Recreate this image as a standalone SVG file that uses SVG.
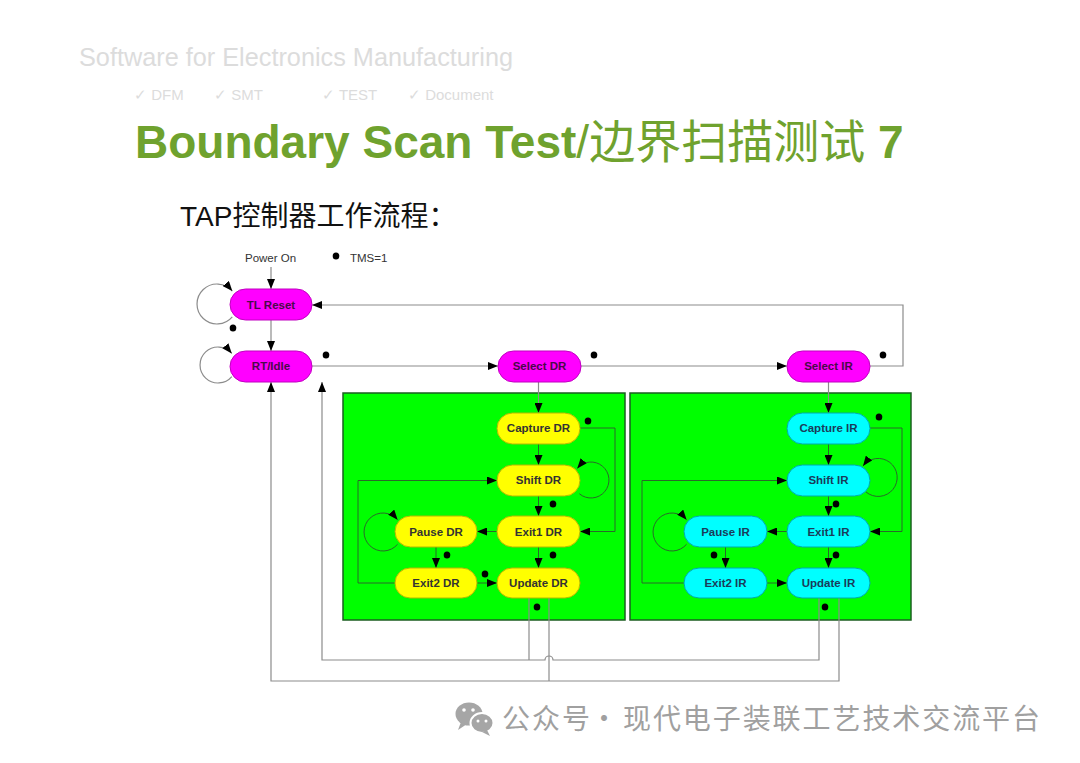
<svg xmlns="http://www.w3.org/2000/svg" width="1080" height="763" viewBox="0 0 1080 763">
<style>
.hdr{font-family:"Liberation Sans",Arial,sans-serif;fill:#dcdcdc}
.ttl{font-family:"Liberation Sans","Noto Sans CJK SC",sans-serif;fill:#6fa22e}
.sub{font-family:"Liberation Sans","Noto Sans CJK SC",sans-serif;fill:#111}
.lbl{font-family:"Liberation Sans",Arial,sans-serif;font-size:11.5px;fill:#333}
.nt{font-family:"Liberation Sans",Arial,sans-serif;font-size:11.5px;font-weight:bold;text-anchor:middle}
.mg rect{fill:#ff00ff;stroke:#c000c0;stroke-width:1}
.mg text{fill:#4a0a4a}
.yl rect{fill:#ffff00;stroke:#b8b800;stroke-width:1}
.yl text{fill:#333}
.cy rect{fill:#00ffff;stroke:#00aaaa;stroke-width:1}
.cy text{fill:#1a3c5a}
.box{fill:#00ff00;stroke:#1b5e20;stroke-width:1.5}
.ln{fill:none;stroke:#8c8c8c;stroke-width:1.2}
.lg{fill:none;stroke:#2a6a2a;stroke-width:1}
.dot{fill:#000}
.wm{font-family:"Noto Sans CJK SC",sans-serif;fill:#a0a0a0}
</style>
<defs>
<marker id="ah" viewBox="0 0 10 8" refX="10" refY="4" markerWidth="10" markerHeight="8" markerUnits="userSpaceOnUse" orient="auto">
<path d="M0,0 L10,4 L0,8 z" fill="#000"/>
</marker>
</defs>
<rect width="1080" height="763" fill="#fff"/>

<g id="header">
<text class="hdr" x="79" y="66" font-size="26" textLength="434" lengthAdjust="spacingAndGlyphs">Software for Electronics Manufacturing</text>
<text class="hdr" x="134" y="100" font-size="15">✓ DFM</text>
<text class="hdr" x="214" y="100" font-size="15">✓ SMT</text>
<text class="hdr" x="322" y="100" font-size="15">✓ TEST</text>
<text class="hdr" x="408" y="100" font-size="15">✓ Document</text>
</g>

<g id="title">
<text class="ttl" x="135" y="158" font-size="46"><tspan font-weight="bold">Boundary Scan Test</tspan><tspan>/</tspan><tspan>边界扫描测试</tspan><tspan font-weight="bold"> 7</tspan></text>
<text class="sub" x="180" y="226" font-size="28">TAP控制器工作流程：</text>
</g>

<g id="boxes">
<rect class="box" x="343" y="393" width="282" height="227"/>
<rect class="box" x="630" y="393" width="281" height="227"/>
</g>

<g id="legend">
<text class="lbl" x="245" y="262">Power On</text>
<ellipse class="dot" cx="336" cy="256" rx="3.3" ry="3.6"/>
<text class="lbl" x="350" y="262">TMS=1</text>
</g>

<g id="connectors">
<path class="ln" d="M271 267 V289" marker-end="url(#ah)"/>
<path class="ln" d="M271 320 V351" marker-end="url(#ah)"/>
<path class="ln" d="M312 366 H498" marker-end="url(#ah)"/>
<path class="ln" d="M581 366 H787" marker-end="url(#ah)"/>
<path class="ln" d="M870 366 H903 V305 H312" marker-end="url(#ah)"/>
<path class="ln" d="M232.3 316.9 A20 20 0 1 1 232.3 291.1" marker-end="url(#ah)"/>
<path class="ln" d="M231.8 376.6 A18 18 0 1 1 231.8 353.4" marker-end="url(#ah)"/>
<path class="ln" d="M538.5 382 V413" marker-end="url(#ah)"/>
<path class="ln" d="M828.5 382 V413" marker-end="url(#ah)"/>
<path class="ln" d="M819 598 V660 H553 A4 4 0 0 0 545 660 H322 V382" marker-end="url(#ah)"/>
<path class="ln" d="M529 598 V660"/>
<path class="ln" d="M839 598 V681 H271 V382" marker-end="url(#ah)"/>
<path class="ln" d="M549 598 V681"/>
<path class="lg" d="M538.5 444 V465" marker-end="url(#ah)"/>
<path class="lg" d="M580 428 H615 V531.5 H580" marker-end="url(#ah)"/>
<path class="lg" d="M579.4 493.8 A18 18 0 1 0 577.2 468.4" marker-end="url(#ah)"/>
<path class="lg" d="M538.5 496 V516" marker-end="url(#ah)"/>
<path class="lg" d="M497 531.5 H477" marker-end="url(#ah)"/>
<path class="lg" d="M538.5 547 V568" marker-end="url(#ah)"/>
<path class="lg" d="M397.6 544.2 A19 19 0 1 1 397.6 519.8" marker-end="url(#ah)"/>
<path class="lg" d="M436 547 V568" marker-end="url(#ah)"/>
<path class="lg" d="M477 583 H497" marker-end="url(#ah)"/>
<path class="lg" d="M395 583 H358 V480.5 H497" marker-end="url(#ah)"/>
<path class="lg" d="M828.5 444 V465" marker-end="url(#ah)"/>
<path class="lg" d="M870 428 H902 V531.5 H870" marker-end="url(#ah)"/>
<path class="lg" d="M866 492 A19 19 0 1 0 863 466" marker-end="url(#ah)"/>
<path class="lg" d="M828.5 496 V516" marker-end="url(#ah)"/>
<path class="lg" d="M787 531.5 H767" marker-end="url(#ah)"/>
<path class="lg" d="M828.5 547 V568" marker-end="url(#ah)"/>
<path class="lg" d="M686.6 544.2 A19 19 0 1 1 686.6 519.8" marker-end="url(#ah)"/>
<path class="lg" d="M725.5 547 V568" marker-end="url(#ah)"/>
<path class="lg" d="M767 583 H787" marker-end="url(#ah)"/>
<path class="lg" d="M684 583 H642 V480.5 H787" marker-end="url(#ah)"/>
</g>

<g id="dots">
<ellipse class="dot" cx="233" cy="328" rx="3.3" ry="3.6"/>
<ellipse class="dot" cx="326" cy="355" rx="3.3" ry="3.6"/>
<ellipse class="dot" cx="594" cy="355" rx="3.3" ry="3.6"/>
<ellipse class="dot" cx="883" cy="355" rx="3.3" ry="3.6"/>
<ellipse class="dot" cx="588" cy="421" rx="3.3" ry="3.6"/>
<ellipse class="dot" cx="553" cy="504" rx="3.3" ry="3.6"/>
<ellipse class="dot" cx="553" cy="555" rx="3.3" ry="3.6"/>
<ellipse class="dot" cx="447" cy="555" rx="3.3" ry="3.6"/>
<ellipse class="dot" cx="485" cy="574" rx="3.3" ry="3.6"/>
<ellipse class="dot" cx="537" cy="607" rx="3.3" ry="3.6"/>
<ellipse class="dot" cx="879" cy="417" rx="3.3" ry="3.6"/>
<ellipse class="dot" cx="836" cy="504" rx="3.3" ry="3.6"/>
<ellipse class="dot" cx="836" cy="555" rx="3.3" ry="3.6"/>
<ellipse class="dot" cx="714" cy="555" rx="3.3" ry="3.6"/>
<ellipse class="dot" cx="753" cy="576" rx="3.3" ry="3.6"/>
<ellipse class="dot" cx="825" cy="607" rx="3.3" ry="3.6"/>
</g>

<g id="tl-reset" class="mg"><rect x="230" y="289" width="82" height="31" rx="15.5"/><text class="nt" x="271" y="309">TL Reset</text></g>
<g id="rt-idle" class="mg"><rect x="230" y="351" width="82" height="31" rx="15.5"/><text class="nt" x="271" y="370">RT/Idle</text></g>
<g id="select-dr" class="mg"><rect x="498" y="351" width="83" height="31" rx="15.5"/><text class="nt" x="539.5" y="370">Select DR</text></g>
<g id="select-ir" class="mg"><rect x="787" y="351" width="83" height="31" rx="15.5"/><text class="nt" x="828.5" y="370">Select IR</text></g>

<g id="capture-dr" class="yl"><rect x="497" y="413" width="83" height="31" rx="15.5"/><text class="nt" x="538.5" y="432">Capture DR</text></g>
<g id="shift-dr" class="yl"><rect x="497" y="465" width="83" height="31" rx="15.5"/><text class="nt" x="538.5" y="484">Shift DR</text></g>
<g id="exit1-dr" class="yl"><rect x="497" y="516" width="83" height="31" rx="15.5"/><text class="nt" x="538.5" y="535.5">Exit1 DR</text></g>
<g id="pause-dr" class="yl"><rect x="395" y="516" width="82" height="31" rx="15.5"/><text class="nt" x="436" y="535.5">Pause DR</text></g>
<g id="exit2-dr" class="yl"><rect x="395" y="568" width="82" height="30" rx="15"/><text class="nt" x="436" y="587">Exit2 DR</text></g>
<g id="update-dr" class="yl"><rect x="497" y="568" width="83" height="30" rx="15"/><text class="nt" x="538.5" y="587">Update DR</text></g>

<g id="capture-ir" class="cy"><rect x="787" y="413" width="83" height="31" rx="15.5"/><text class="nt" x="828.5" y="432">Capture IR</text></g>
<g id="shift-ir" class="cy"><rect x="787" y="465" width="83" height="31" rx="15.5"/><text class="nt" x="828.5" y="484">Shift IR</text></g>
<g id="exit1-ir" class="cy"><rect x="787" y="516" width="83" height="31" rx="15.5"/><text class="nt" x="828.5" y="535.5">Exit1 IR</text></g>
<g id="pause-ir" class="cy"><rect x="684" y="516" width="83" height="31" rx="15.5"/><text class="nt" x="725.5" y="535.5">Pause IR</text></g>
<g id="exit2-ir" class="cy"><rect x="684" y="568" width="83" height="30" rx="15"/><text class="nt" x="725.5" y="587">Exit2 IR</text></g>
<g id="update-ir" class="cy"><rect x="787" y="568" width="83" height="30" rx="15"/><text class="nt" x="828.5" y="587">Update IR</text></g>

<g id="watermark">
<ellipse cx="469" cy="714" rx="13.5" ry="11.5" fill="#a6a6a6"/>
<path d="M461 722 L458 730 L467 724 z" fill="#a6a6a6"/>
<ellipse cx="482" cy="723" rx="11.5" ry="10" fill="#a6a6a6" stroke="#fff" stroke-width="2"/>
<path d="M487 730 L490 736 L482 732 z" fill="#a6a6a6"/>
<circle cx="464" cy="710" r="1.8" fill="#fff"/>
<circle cx="473" cy="710" r="1.8" fill="#fff"/>
<circle cx="478" cy="721" r="1.5" fill="#fff"/>
<circle cx="486" cy="721" r="1.5" fill="#fff"/>
<text class="wm" x="502" y="729" font-size="28" textLength="88">公众号</text>
<text class="wm" x="590" y="729" font-size="28">·</text>
<text class="wm" x="623" y="729" font-size="28" textLength="417">现代电子装联工艺技术交流平台</text>
</g>
</svg>
